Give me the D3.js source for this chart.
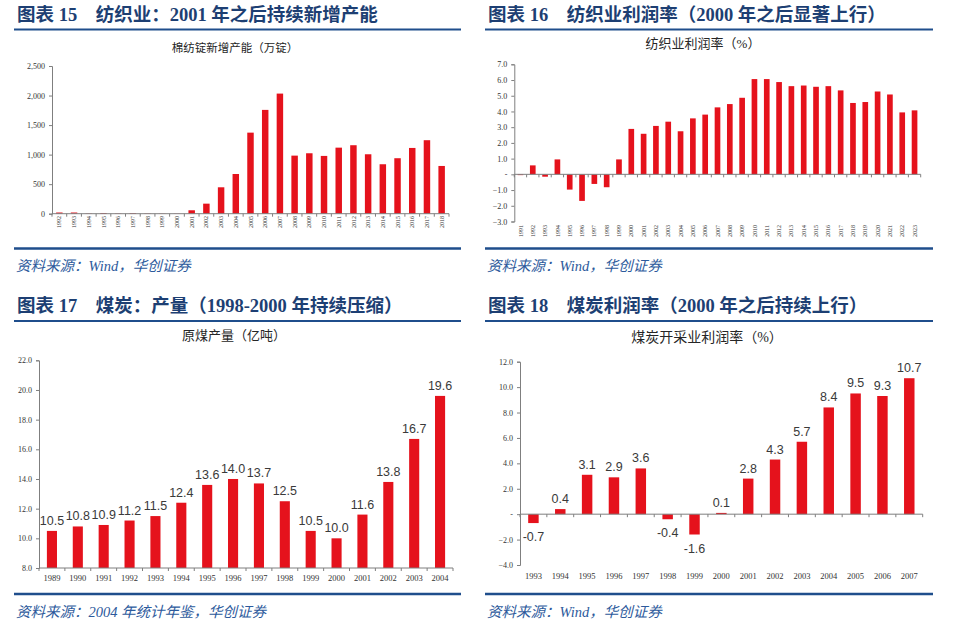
<!DOCTYPE html>
<html><head><meta charset="utf-8">
<script src="https://cdn.jsdelivr.net/npm/d3@7"></script>
<style>
html,body{margin:0;padding:0;background:#fff;}
svg{display:block;}
</style></head>
<body>
<svg id="c" width="960" height="632"></svg>
<script>
// ---------- data ----------
const years15 = ["1992","1993","1994","1995","1996","1997","1998","1999","2000","2001","2002","2003","2004","2005","2006","2007","2008","2009","2010","2011","2012","2013","2014","2015","2016","2017","2018"];
const spindles15 = [20,20,5,12,5,10,5,3,3,58,170,447,672,1372,1757,2033,983,1023,978,1118,1159,1006,837,939,1113,1244,808];
const ticks15 = [0,500,1000,1500,2000,2500];

const years16 = ["1991","1992","1993","1994","1995","1996","1997","1998","1999","2000","2001","2002","2003","2004","2005","2006","2007","2008","2009","2010","2011","2012","2013","2014","2015","2016","2017","2018","2019","2020","2021","2022","2023"];
const margin16 = [-0.05,0.57,-0.15,0.95,-0.97,-1.69,-0.61,-0.82,0.95,2.89,2.58,3.08,3.35,2.74,3.56,3.80,4.26,4.47,4.87,6.06,6.06,5.87,5.61,5.65,5.57,5.61,5.34,4.54,4.60,5.27,5.08,3.94,4.07];
const ticks16 = [-3,-2,-1,0,1,2,3,4,5,6,7];

const years17 = ["1989","1990","1991","1992","1993","1994","1995","1996","1997","1998","1999","2000","2001","2002","2003","2004"];
const coal17 = [10.5,10.8,10.9,11.2,11.5,12.4,13.6,14.0,13.7,12.5,10.5,10.0,11.6,13.8,16.7,19.6];
const ticks17 = [8,10,12,14,16,18,20,22];

const years18 = ["1993","1994","1995","1996","1997","1998","1999","2000","2001","2002","2003","2004","2005","2006","2007"];
const coalMargin18 = [-0.7,0.4,3.1,2.9,3.6,-0.4,-1.6,0.1,2.8,4.3,5.7,8.4,9.5,9.3,10.7];
const ticks18 = [-4,-2,0,2,4,6,8,10,12];

const titles = ["图表 15　纺织业：2001 年之后持续新增产能","图表 16　纺织业利润率（2000 年之后显著上行）","图表 17　煤炭：产量（1998-2000 年持续压缩）","图表 18　煤炭利润率（2000 年之后持续上行）"];
const subtitles = ["棉纺锭新增产能（万锭）","纺织业利润率（%）","原煤产量（亿吨）","煤炭开采业利润率（%）"];
const sources = ["资料来源：Wind，华创证券","资料来源：Wind，华创证券","资料来源：2004 年统计年鉴，华创证券","资料来源：Wind，华创证券"];

// ---------- style ----------
const RED = "#e5121c";
const NAVY = "#1d3f73";
const LINE = "#1f4e8c";
const SRC = "#2d5a9c";
const AX = "#7f7f7f";
const serif = "'Liberation Serif','Noto Sans CJK SC',serif";
const cjk = "'Liberation Serif','Noto Sans CJK SC',sans-serif";

const svg = d3.select("#c");

function header(x0, x1, yTitle, yLine, yBottom, ySrc, idx, subX, subY, subSize, titleSize){
  svg.append("text").attr("x", x0+3).attr("y", yTitle).text(titles[idx])
    .attr("font-family", cjk).attr("font-weight","bold").attr("font-size",titleSize).attr("fill",NAVY);
  svg.append("line").attr("x1",x0).attr("x2",x1).attr("y1",yLine).attr("y2",yLine)
    .attr("stroke",LINE).attr("stroke-width",2);
  svg.append("text").attr("x",subX).attr("y",subY).attr("text-anchor","middle").text(subtitles[idx])
    .attr("font-family", cjk).attr("font-size",subSize).attr("fill","#262626");
  svg.append("line").attr("x1",x0).attr("x2",x1).attr("y1",yBottom).attr("y2",yBottom)
    .attr("stroke",LINE).attr("stroke-width",2.5);
  svg.append("text").attr("x", x0+2).attr("y", ySrc).text(sources[idx])
    .attr("font-family", cjk).attr("font-style","italic").attr("font-size",14.5).attr("fill",SRC);
}

function barChart(o){
  const g = svg.append("g");
  const x = d3.scaleBand().domain(o.cats).range([o.x0,o.x1]).paddingInner(o.pad).paddingOuter(o.pad/2);
  const y = d3.scaleLinear().domain(o.domain).range([o.yb,o.yt]);
  const base = y(o.base);
  // bars
  g.selectAll("rect").data(o.vals).enter().append("rect")
    .attr("x",(d,i)=>x(o.cats[i]))
    .attr("width",x.bandwidth())
    .attr("y",d=>Math.min(y(d),base))
    .attr("height",d=>Math.abs(y(d)-base))
    .attr("fill",RED);
  // y axis
  const ya = d3.axisLeft(y).tickValues(o.ticks).tickSize(3).tickPadding(4).tickFormat(o.yfmt);
  const yg = g.append("g").attr("transform",`translate(${o.x0},0)`).call(ya);
  yg.select(".domain").attr("stroke",AX);
  yg.selectAll(".tick line").attr("stroke",AX);
  yg.selectAll("text").attr("font-family",serif).attr("font-size",o.yfs).attr("fill","#333");
  // x axis line at base
  g.append("line").attr("x1",o.x0).attr("x2",o.x1).attr("y1",base).attr("y2",base).attr("stroke",AX);
  // ticks at band boundaries
  const bounds = o.cats.map(c=>x(c)-x.step()*x.paddingInner()/2).concat([o.x1]);
  g.selectAll(".xt").data(bounds).enter().append("line")
    .attr("x1",d=>d).attr("x2",d=>d).attr("y1",base).attr("y2",base+3).attr("stroke",AX);
  // x labels
  const xl = g.selectAll(".xl").data(o.cats).enter().append("text")
    .text(d=>d).attr("font-family",serif).attr("font-size",o.xfs).attr("fill","#333");
  if(o.rotate){
    xl.attr("transform",d=>`translate(${x(d)+x.bandwidth()/2+o.xfs*0.35},${o.labelY}) rotate(-90)`)
      .attr("text-anchor","end");
  } else {
    xl.attr("x",d=>x(d)+x.bandwidth()/2).attr("y",o.labelY).attr("text-anchor","middle");
  }
  // data labels
  if(o.dataLabels){
    g.selectAll(".dl").data(o.vals).enter().append("text")
      .attr("x",(d,i)=>x(o.cats[i])+x.bandwidth()/2)
      .attr("y",d=> d>=0 ? y(d)-6 : y(d)+18)
      .attr("text-anchor","middle")
      .attr("font-family","'Liberation Sans','Open Sans',sans-serif")
      .attr("font-size",12.5).attr("fill","#3a3a3a")
      .text(d=>d.toFixed(1));
  }
}

// ---------- panel 15 ----------
header(14,461,21,29.5,248.5,271,0,235,52,11.5,18.5);
barChart({cats:years15, vals:spindles15, ticks:ticks15, domain:[0,2500], base:0,
  x0:52, x1:449, yb:213.7, yt:66, pad:0.56, yfmt:d3.format(","), yfs:8, xfs:6, rotate:true, labelY:216});

// ---------- panel 16 ----------
header(485,933,21,29.5,248.5,271,1,703,48,13,18.5);
barChart({cats:years16, vals:margin16, ticks:ticks16, domain:[-3,7], base:0,
  x0:514.3, x1:920.7, yb:221.5, yt:64.3, pad:0.54, yfmt:d=>d===0?"-":d3.format(".1f")(d), yfs:8, xfs:6, rotate:true, labelY:225});

// ---------- panel 17 ----------
header(14,461,312,321,594,617,2,234,340,13,18.5);
barChart({cats:years17, vals:coal17, ticks:ticks17, domain:[8,22], base:8,
  x0:39, x1:453, yb:568, yt:360.3, pad:0.61, yfmt:d3.format(".1f"), yfs:8, xfs:8.5, rotate:false, labelY:581, dataLabels:true});

// ---------- panel 18 ----------
header(485,933,312,321,594,617,3,707,342,14,18.5);
barChart({cats:years18, vals:coalMargin18, ticks:ticks18, domain:[-4,12], base:0,
  x0:520, x1:922.7, yb:565, yt:361.7, pad:0.61, yfmt:d=>d===0?"-":d3.format(".1f")(d), yfs:8, xfs:8.5, rotate:false, labelY:579, dataLabels:true});
</script>
</body></html>
